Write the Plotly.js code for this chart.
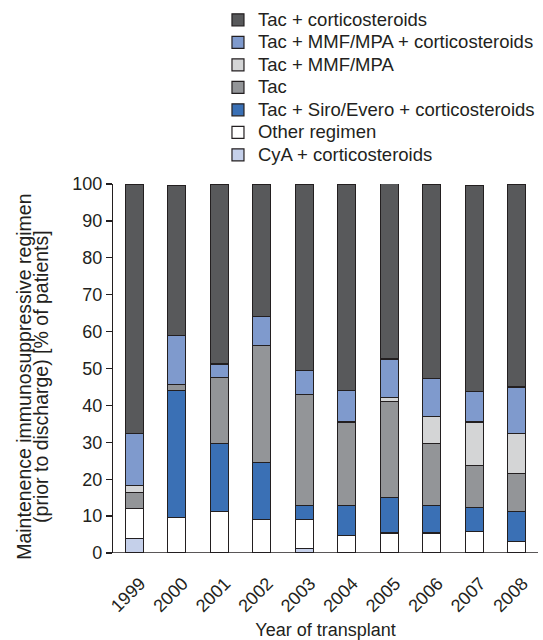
<!DOCTYPE html>
<html>
<head>
<meta charset="utf-8">
<script src="https://cdn.plot.ly/plotly-3.0.1.min.js"></script>
<style>html,body{margin:0;padding:0;background:#fff;}#chart{width:543px;height:640px;}</style>
</head>
<body>
<div id="chart"></div>
<script>
var years = ['1999','2000','2001','2002','2003','2004','2005','2006','2007','2008'];
var cyaCort      = [4.0, 0,    0,    0,    1.2,  0,    0,    0,    0,    0];
var otherReg     = [8.0, 9.7,  11.3, 9.0,  7.8,  4.8,  5.4,  5.4,  5.8,  3.1];
var tacSiroCort  = [0,   34.4, 18.4, 15.6, 3.9,  8.1,  9.7,  7.5,  6.6,  8.1];
var tacOnly      = [4.4, 1.6,  17.9, 31.6, 30.1, 22.6, 26.0, 16.8, 11.4, 10.4];
var tacMmf       = [2.0, 0,    0,    0,    0,    0,    1.0,  7.4,  11.7, 10.8];
var tacMmfCort   = [14.0,13.2, 3.6,  7.8,  6.5,  8.6,  10.5, 10.1, 8.3,  12.6];
var tacCort      = [67.6,40.7, 48.8, 36.0, 50.5, 55.9, 47.8, 52.8, 55.8, 55.0];

var seriesNames = ['CyA + corticosteroids','Other regimen','Tac + Siro/Evero + corticosteroids','Tac','Tac + MMF/MPA','Tac + MMF/MPA + corticosteroids','Tac + corticosteroids'];
var seriesVals = [cyaCort, otherReg, tacSiroCort, tacOnly, tacMmf, tacMmfCort, tacCort];
var seriesColors = ['#c5d0ea','#ffffff','#3a70b5','#939598','#d4d5d6','#7f9acd','#58595b'];

var big = function(t, s){ return '<span style="font-size:' + s + 'px">' + t + '</span>'; };

var traces = seriesNames.map(function(n,i){
  return {
    type:'bar', name:big(n, 18.5), x:years, y:seriesVals[i], width:0.42,
    marker:{color:seriesColors[i], line:{color:'#231f20', width:1.2}},
    cliponaxis:false, hoverinfo:'skip'
  };
});

var pad = '\u00A0\u00A0\u00A0';
var fontFam = 'Liberation Sans, Arial, Helvetica, sans-serif';
var layout = {
  width:543, height:640,
  margin:{l:113, r:3, t:183, b:87},
  barmode:'stack',
  paper_bgcolor:'#fff', plot_bgcolor:'#fff',
  font:{family:fontFam, size:18, color:'#231f20'},
  showlegend:true,
  legend:{x:0.247, y:1.489, xanchor:'left', yanchor:'top', traceorder:'reversed', bgcolor:'rgba(0,0,0,0)', font:{size:15}},
  xaxis:{type:'category', range:[-0.5,9.5], tickangle:-45, ticks:'outside', ticklen:12, tickcolor:'rgba(0,0,0,0)',
         ticklabelshift:6, showline:false, showgrid:false, zeroline:false, tickfont:{size:18},
         title:{text:'Year of transplant', font:{size:18}, standoff:10}},
  yaxis:{range:[0,100], dtick:10, tick0:0, ticks:'outside', ticklen:6, tickwidth:1.2, tickcolor:'#231f20',
         showline:true, linecolor:'#231f20', linewidth:1.2, showgrid:false, zeroline:false, tickfont:{size:18},
         title:{text:big('Maintenence immunosuppressive regimen' + pad, 19.5) + '<br>' + big('(prior to discharge) [% of patients]' + pad, 19.5), font:{size:13}, standoff:20}},
  shapes:[{type:'line', xref:'paper', yref:'y', x0:-0.014, x1:1, y0:0, y1:0, line:{color:'#231f20', width:1.5}}]
};
Plotly.newPlot('chart', traces, layout, {staticPlot:true, displayModeBar:false});
</script>
</body>
</html>
